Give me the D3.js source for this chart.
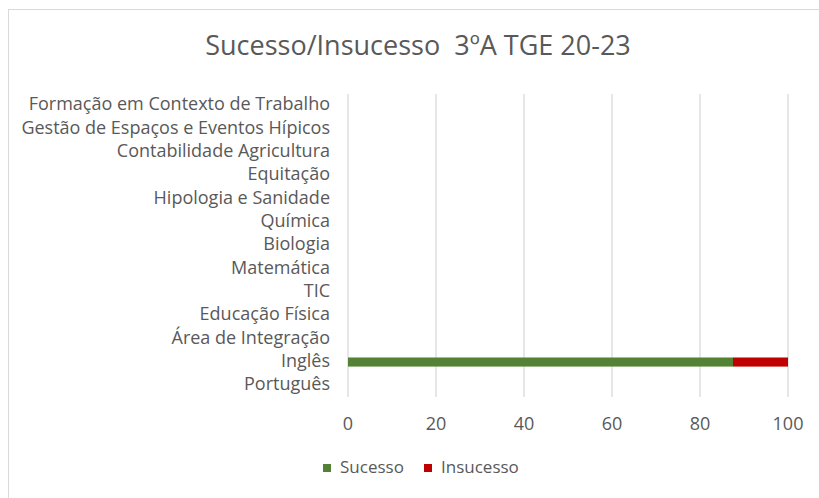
<!DOCTYPE html>
<html>
<head>
<meta charset="utf-8">
<script src="https://cdn.jsdelivr.net/npm/d3@7"></script>
<style>
  body { margin: 0; background: #fff; }
  svg { display: block; font-family: "Open Sans", Lato, sans-serif; }
</style>
</head>
<body>
<div id="chart"></div>
<script>
// Data (top to bottom as shown)
const subjects = [
  "Formação em Contexto de Trabalho",
  "Gestão de Espaços e Eventos Hípicos",
  "Contabilidade Agricultura",
  "Equitação",
  "Hipologia e Sanidade",
  "Química",
  "Biologia",
  "Matemática",
  "TIC",
  "Educação Física",
  "Área de Integração",
  "Inglês",
  "Português"
];
const seriesNames = ["Sucesso", "Insucesso"];
const seriesColors = ["#548235", "#c00000"];
const sucesso   = [0, 0, 0, 0, 0, 0, 0, 0, 0, 0, 0, 87.5, 0];
const insucesso = [0, 0, 0, 0, 0, 0, 0, 0, 0, 0, 0, 12.5, 0];
const xTicks = [0, 20, 40, 60, 80, 100];

const width = 819, height = 498;
const margin = { top: 94, right: 31, bottom: 101, left: 348 };

const svg = d3.select("#chart").append("svg")
    .attr("width", width)
    .attr("height", height);

// Chart frame
svg.append("rect")
    .attr("x", 8.5).attr("y", 9.5)
    .attr("width", 830).attr("height", 520)
    .attr("fill", "#fff")
    .attr("stroke", "#d9d9d9");

// Title
svg.append("text")
    .attr("x", 418).attr("y", 48)
    .attr("text-anchor", "middle")
    .attr("dominant-baseline", "middle")
    .attr("fill", "#595959")
    .style("font-size", "27px")
    .style("white-space", "pre")
    .text("Sucesso/Insucesso  3ºA TGE 20-23");

const x = d3.scaleLinear()
    .domain([0, 100])
    .range([margin.left, width - margin.right]);

const y = d3.scaleBand()
    .domain(subjects)
    .range([margin.top, height - margin.bottom])
    .paddingInner(0.61)
    .paddingOuter(0.305);

// Gridlines
svg.append("g")
    .selectAll("line")
    .data(xTicks)
    .enter()
    .append("line")
    .attr("x1", d => x(d)).attr("x2", d => x(d))
    .attr("y1", margin.top).attr("y2", height - margin.bottom)
    .attr("stroke", "#d9d9d9")
    .attr("stroke-width", 1.3);

// Tick labels
svg.append("g")
    .selectAll("text")
    .data(xTicks)
    .enter()
    .append("text")
    .attr("x", d => x(d))
    .attr("y", 425)
    .attr("text-anchor", "middle")
    .attr("dominant-baseline", "middle")
    .attr("fill", "#595959")
    .style("font-size", "18px")
    .text(d => d);

// Category labels
svg.append("g")
    .selectAll("text")
    .data(subjects)
    .enter()
    .append("text")
    .attr("x", 330)
    .attr("y", d => y(d) + y.bandwidth() / 2)
    .attr("text-anchor", "end")
    .attr("dominant-baseline", "middle")
    .attr("fill", "#595959")
    .style("font-size", "18px")
    .text(d => d);

// Stacked bars
const rows = subjects.map((s, i) => ({ subject: s, Sucesso: sucesso[i], Insucesso: insucesso[i] }));
const stacked = d3.stack().keys(seriesNames)(rows);

svg.append("g")
    .selectAll("g")
    .data(stacked)
    .enter()
    .append("g")
    .attr("fill", (d, i) => seriesColors[i])
    .selectAll("rect")
    .data(d => d)
    .enter()
    .append("rect")
    .attr("x", d => x(d[0]))
    .attr("y", d => y(d.data.subject))
    .attr("width", d => x(d[1]) - x(d[0]))
    .attr("height", y.bandwidth());

// Legend
const legendX = [323, 424];
const legend = svg.append("g")
    .selectAll("g")
    .data(seriesNames)
    .enter()
    .append("g")
    .attr("transform", (d, i) => `translate(${legendX[i]},468)`);

legend.append("rect")
    .attr("x", 0).attr("y", -4)
    .attr("width", 8).attr("height", 8)
    .attr("fill", (d, i) => seriesColors[i]);

legend.append("text")
    .attr("x", 17).attr("y", 0)
    .attr("dominant-baseline", "middle")
    .attr("fill", "#595959")
    .style("font-size", "17px")
    .text(d => d);
</script>
</body>
</html>
